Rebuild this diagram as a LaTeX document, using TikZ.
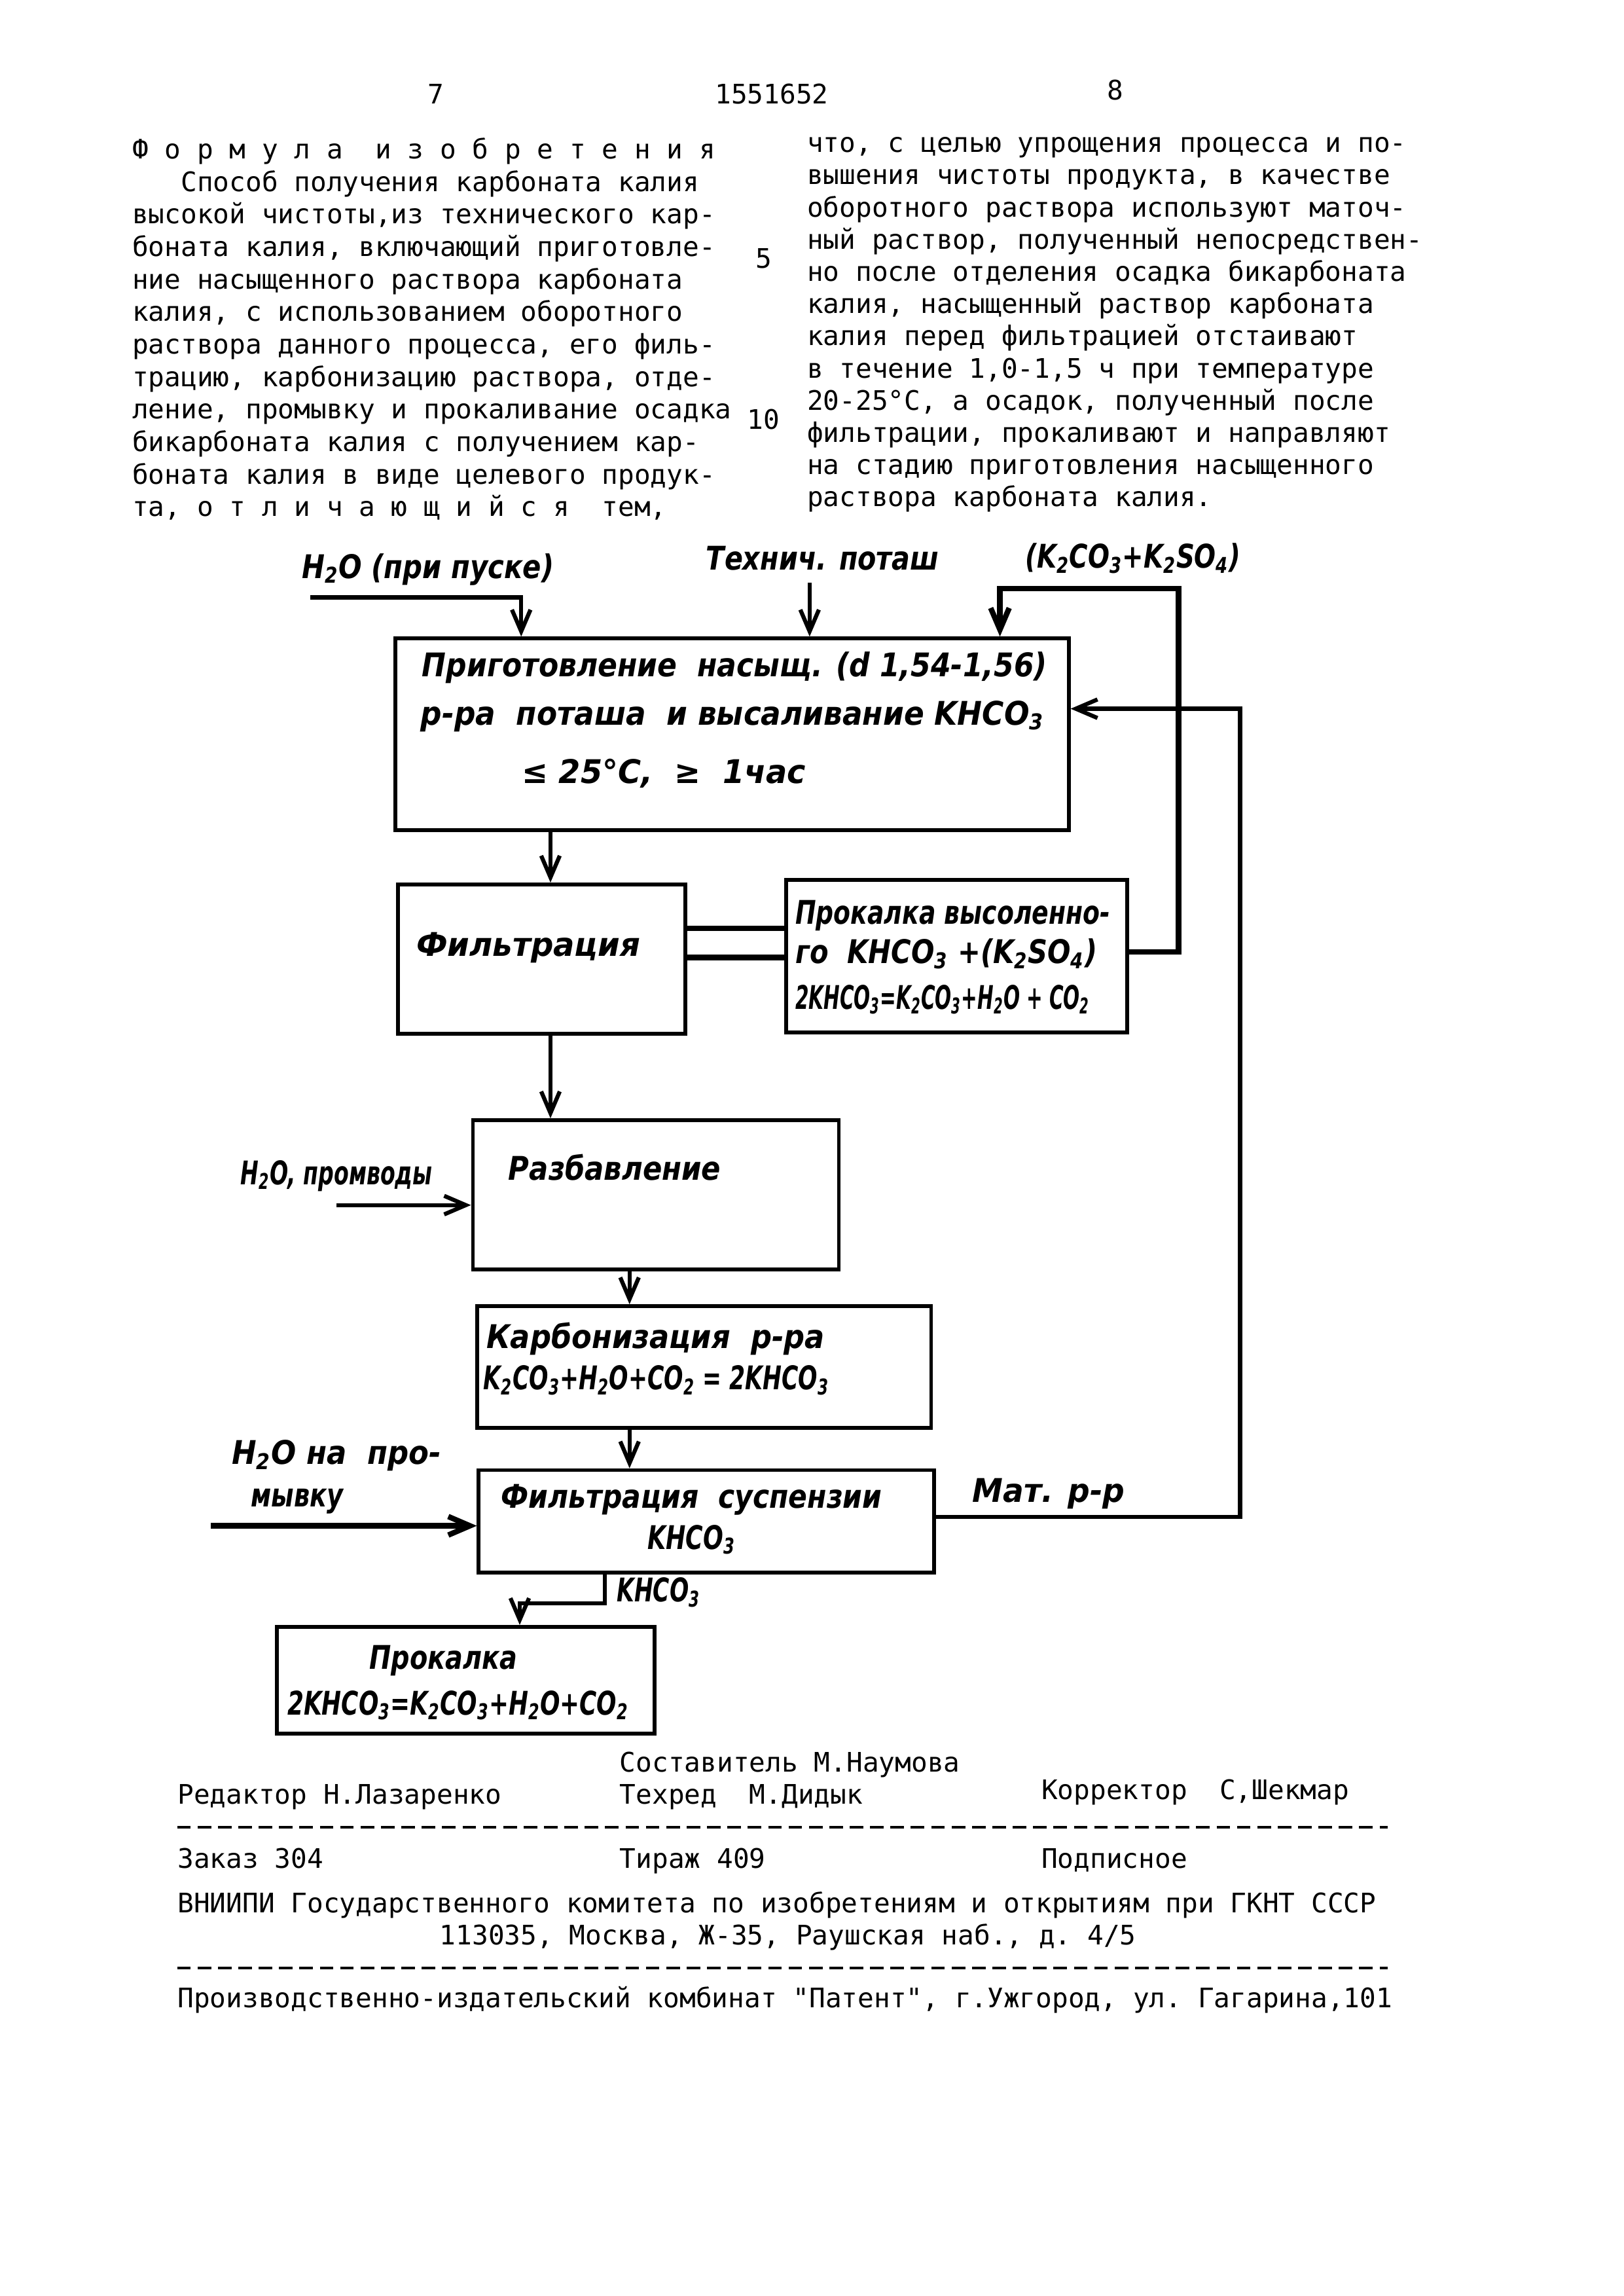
\documentclass[tikz,border=0pt]{standalone}
\usepackage{graphicx}
\usepackage{fontspec}
\setmonofont{DejaVu Sans Mono}
\newfontfamily\handfont{DejaVu Sans}
\usetikzlibrary{arrows.meta,fit}
\newlength{\unitpx}
\setlength{\unitpx}{0.018936cm}

\begin{document}
\begin{tikzpicture}[x=0.018936cm, y=-0.018936cm,
  box/.style={draw, line width=1.4pt, inner sep=0pt},
  feed/.style={line width=1.5pt, -{Straight Barb[length=2.8mm,width=2.4mm]}},
  pipe/.style={line width=2.1pt},
  txt/.style={anchor=base west, inner sep=0pt, font=\fontsize{9.9}{12}\selectfont\ttfamily},
  hand/.style={anchor=base west, inner sep=0pt, font=\fontsize{12}{14}\selectfont\handfont\bfseries\itshape},
  sepline/.style={line width=1pt, dash pattern=on 5pt off 2.5pt}]
%\draw[very thin, gray] (0,0) grid[step=50] (1109,1568);
\newcommand{\hw}[2]{\resizebox{#1\unitpx}{\height}{#2}}
\newcommand{\low}[1]{\textsubscript{#1}}
\useasboundingbox (0,0) rectangle (1109,1568);

\node[txt] (pg7) at (292,71) {7};
\node[txt] (patno) at (488,71) {1551652};
\node[txt] (pg8) at (756,68) {8};
\node[txt] (ln5) at (516,183) {5};
\node[txt] (ln10) at (510,293) {10};

\foreach \t [count=\i] in {{Ф~о~р~м~у~л~а~~и~з~о~б~р~е~т~е~н~и~я},
  {~~~Способ получения карбоната калия},
  {высокой чистоты,из технического кар-},
  {боната калия, включающий приготовле-},
  {ние насыщенного раствора карбоната},
  {калия, с использованием оборотного},
  {раствора данного процесса, его филь-},
  {трацию, карбонизацию раствора, отде-},
  {ление, промывку и прокаливание осадка},
  {бикарбоната калия с получением кар-},
  {боната калия в виде целевого продук-},
  {та, о~т~л~и~ч~а~ю~щ~и~й~с~я~~тем,}}
  \node[txt] (L\i) at (90,{108.5+22.2*(\i-1)}) {\t};

\foreach \t [count=\i] in {{что, с целью упрощения процесса и по-},
  {вышения чистоты продукта, в качестве},
  {оборотного раствора используют маточ-},
  {ный раствор, полученный непосредствен-},
  {но после отделения осадка бикарбоната},
  {калия, насыщенный раствор карбоната},
  {калия перед фильтрацией отстаивают},
  {в течение 1,0-1,5 ч при температуре},
  {20-25°С, а осадок, полученный после},
  {фильтрации, прокаливают и направляют},
  {на стадию приготовления насыщенного},
  {раствора карбоната калия.}}
  \node[txt] (R\i) at (551,{104+22*(\i-1)}) {\t};

\node[box, fit={(270,436) (730,567)}] (prep) {};
\node[box, fit={(272,604) (468,706)}] (filt) {};
\node[box, fit={(537,601) (770,705)}] (calcA) {};
\node[box, fit={(323,765) (573,867)}] (dil) {};
\node[box, fit={(326,892) (636,975)}] (carb) {};
\node[box, fit={(327,1004) (638,1074)}] (sfilt) {};
\node[box, fit={(189,1111) (447,1184)}] (calcB) {};

\node[hand] (h2oL) at (206,395) {\hw{172}{H\low{2}O (при пуске)}};
\node[hand] (techL) at (482,389) {\hw{159}{Технич. поташ}};
\node[hand] (kL) at (700,388) {\hw{147}{(K\low{2}CO\low{3}+K\low{2}SO\low{4})}};
\node[hand] (prepA) at (288,462) {\hw{427}{Приготовление~ насыщ. (d 1,54-1,56)}};
\node[hand] (prepB) at (287,495) {\hw{426}{р-ра~ поташа~ и высаливание KHCO\low{3}}};
\node[hand] (prepC) at (356,535) {\hw{194}{≤ 25°C,~ ≥~ 1час}};
\node[hand] (filtT) at (284,653) {\hw{153}{Фильтрация}};
\node[hand] (calcA1) at (543,631) {\hw{215}{Прокалка высоленно-}};
\node[hand] (calcA2) at (543,658) {\hw{206}{го~ KHCO\low{3} +(K\low{2}SO\low{4})}};
\node[hand] (calcA3) at (543,689) {\hw{201}{2KHCO\low{3}=K\low{2}CO\low{3}+H\low{2}O + CO\low{2}}};
\node[hand] (dilT) at (347,806) {\hw{145}{Разбавление}};
\node[hand] (h2oM) at (164,809) {\hw{131}{H\low{2}O, промводы}};
\node[hand] (carbA) at (332,921) {\hw{231}{Карбонизация~ р-ра}};
\node[hand] (carbB) at (330,949) {\hw{236}{K\low{2}CO\low{3}+H\low{2}O+CO\low{2} = 2KHCO\low{3}}};
\node[hand] (sfiltA) at (342,1030) {\hw{260}{Фильтрация~ суспензии}};
\node[hand] (sfiltB) at (442,1058) {\hw{60}{KHCO\low{3}}};
\node[hand] (washA) at (158,1000) {\hw{143}{H\low{2}O на~ про-}};
\node[hand] (washB) at (171,1029) {\hw{63}{мывку}};
\node[hand] (matL) at (664,1026) {\hw{104}{Мат. р-р}};
\node[hand] (khL) at (421,1094) {\hw{57}{KHCO\low{3}}};
\node[hand] (calcB1) at (252,1140) {\hw{101}{Прокалка}};
\node[hand] (calcB2) at (196,1171) {\hw{233}{2KHCO\low{3}=K\low{2}CO\low{3}+H\low{2}O+CO\low{2}}};

\coordinate (h2oA) at (212,408);
\coordinate (h2oB) at (356,408);
\coordinate (techA) at (553,398);
\coordinate (kA) at (805,402);
\coordinate (kB) at (683,402);
\coordinate (kC) at (805,650);
\coordinate (mA) at (847,1036);
\coordinate (mB) at (847,484);
\coordinate (wA) at (230,823);
\coordinate (wB) at (144,1042);
\coordinate (pA) at (413,1095);
\coordinate (pB) at (355,1095);

\draw[feed] (h2oA) -- (h2oB) -- (h2oB |- prep.north);
\draw[feed] (techA) -- (techA |- prep.north);
\draw[feed, line width=2pt] (kC -| calcA.east) -- (kC) -- (kA) -- (kB) -- (kB |- prep.north);
\draw[feed] (mA -| sfilt.east) -- (mA) -- (mB) -- (mB -| prep.east);
\draw[feed] (376,0 |- prep.south) -- (376,0 |- filt.north);
\draw[pipe] (filt.east |- 0,634) -- (calcA.west |- 0,634);
\draw[pipe] (filt.east |- 0,654) -- (calcA.west |- 0,654);
\draw[feed] (376,0 |- filt.south) -- (376,0 |- dil.north);
\draw[feed] (wA) -- (wA -| dil.west);
\draw[feed] (430,0 |- dil.south) -- (430,0 |- carb.north);
\draw[feed] (430,0 |- carb.south) -- (430,0 |- sfilt.north);
\draw[feed, line width=2pt] (wB) -- (wB -| sfilt.west);
\draw[feed] (pA |- sfilt.south) -- (pA) -- (pB) -- (pB |- calcB.north);

\node[txt] (comp) at (423,1210) {Составитель М.Наумова};
\node[txt] (ed) at (121,1232) {Редактор Н.Лазаренко};
\node[txt] (techr) at (423,1232) {Техред~ М.Дидык};
\node[txt] (corr) at (711,1229) {Корректор~~С,Шекмар};
\draw[sepline] (121,1248) -- (948,1248);
\node[txt] (order) at (121,1276) {Заказ 304};
\node[txt] (circ) at (423,1276) {Тираж 409};
\node[txt] (subs) at (711,1276) {Подписное};
\node[txt] (vniipi) at (121,1306) {ВНИИПИ Государственного комитета по изобретениям и открытиям при ГКНТ СССР};
\node[txt] (addr) at (300,1328) {113035, Москва, Ж-35, Раушская наб., д. 4/5};
\draw[sepline] (121,1344) -- (948,1344);
\node[txt] (plant) at (121,1371) {Производственно-издательский комбинат "Патент", г.Ужгород, ул. Гагарина,101};
\end{tikzpicture}
\end{document}
